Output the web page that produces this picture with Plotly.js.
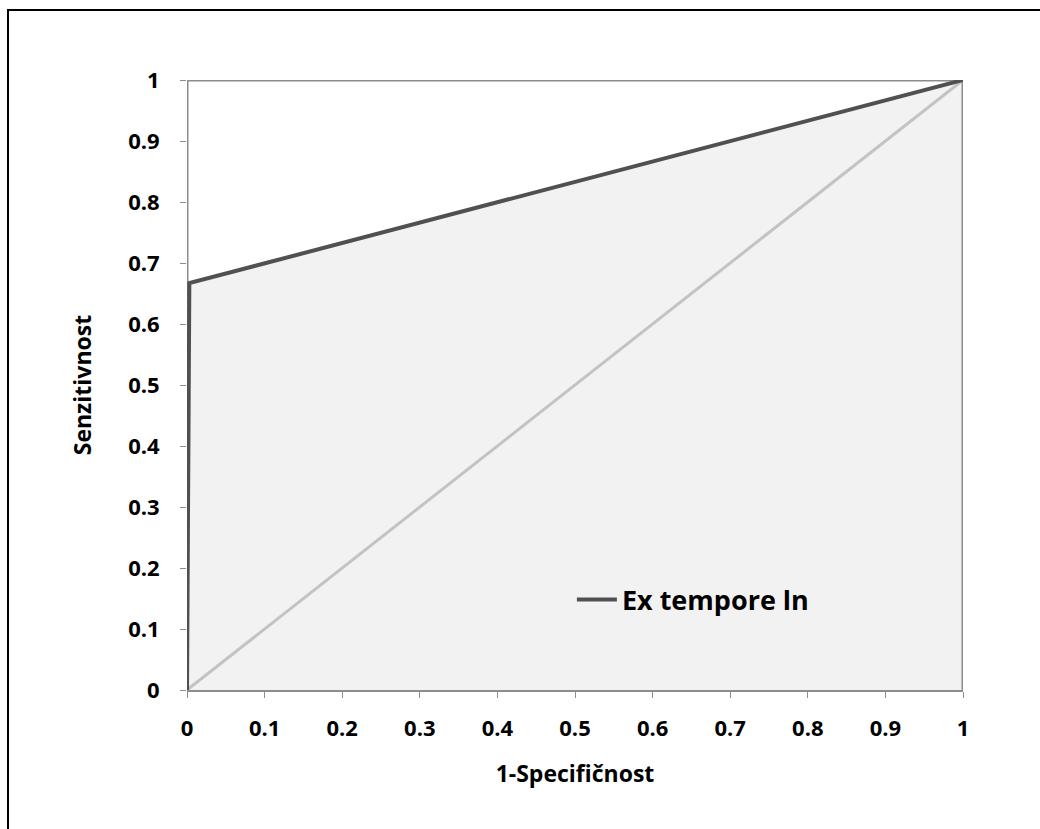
<!DOCTYPE html>
<html>
<head>
<meta charset="utf-8">
<script src="https://cdn.plot.ly/plotly-3.0.1.min.js"></script>
<style>
html,body{margin:0;padding:0;background:#fff;}
#frame{position:absolute;left:7px;top:9px;width:1040px;height:829px;border-left:2px solid #000;border-top:2px solid #000;box-sizing:border-box;}
#chart{position:absolute;left:0;top:0;width:1040px;height:829px;}
</style>
</head>
<body>
<div id="chart"></div>
<div id="frame"></div>
<script>
// ROC curve data
const rocX = [0, 0.003, 1];
const rocY = [0, 0.667, 1];
// Perfect classifier / plot border
const perfX = [0, 0, 1, 1];
const perfY = [0, 1, 1, 0];
// Reference diagonal
const diagX = [0, 1];
const diagY = [0, 1];
const seriesName = "Ex tempore ln";
const xTitle = "1-Specifičnost";
const yTitle = "Senzitivnost";

const font = "'Open Sans', 'Liberation Sans', sans-serif";

const traces = [
  {x: rocX, y: rocY, mode: 'lines', fill: 'tozeroy', fillcolor: '#f2f2f2',
   line: {width: 0, color: 'rgba(0,0,0,0)'}, showlegend: false, hoverinfo: 'skip'},
  {x: perfX, y: perfY, mode: 'lines', line: {color: '#8c8c8c', width: 3}, showlegend: false},
  {x: diagX, y: diagY, mode: 'lines', line: {color: '#c3c3c3', width: 3}, showlegend: false},
  {x: rocX, y: rocY, mode: 'lines', name: seriesName, line: {color: '#505050', width: 4}, showlegend: true}
];

const layout = {
  width: 1040, height: 829,
  margin: {l: 187, r: 77, t: 80, b: 139},
  paper_bgcolor: '#ffffff', plot_bgcolor: '#ffffff',
  font: {family: font, color: '#000', size: 22, weight: 'bold'},
  xaxis: {
    range: [0, 1], dtick: 0.1, tick0: 0, showgrid: false, zeroline: false,
    showline: true, linecolor: '#8c8c8c', linewidth: 2,
    ticks: 'outside', ticklen: 6, tickcolor: '#8c8c8c', tickwidth: 1,
    ticklabelstandoff: 12,
    tickfont: {family: font, size: 22, color: '#000', weight: 'bold'},
    title: {text: xTitle, font: {family: font, size: 23, color: '#000', weight: 'bold'}, standoff: 24}
  },
  yaxis: {
    range: [0, 1], dtick: 0.1, tick0: 0, showgrid: false, zeroline: false,
    showline: false,
    ticks: 'outside', ticklen: 6, tickcolor: '#8c8c8c', tickwidth: 1,
    ticklabelstandoff: 16,
    tickfont: {family: font, size: 22, color: '#000', weight: 'bold'},
    title: {text: yTitle, font: {family: font, size: 23, color: '#000', weight: 'bold'}, standoff: 30}
  },
  legend: {
    x: 0.496, y: 0.1475, xanchor: 'left', yanchor: 'middle',
    bgcolor: 'rgba(0,0,0,0)', font: {family: font, size: 27, color: '#000', weight: 'bold'},
    itemwidth: 40
  },
  showlegend: true
};

Plotly.newPlot('chart', traces, layout, {displayModeBar: false, staticPlot: true});
</script>
</body>
</html>
